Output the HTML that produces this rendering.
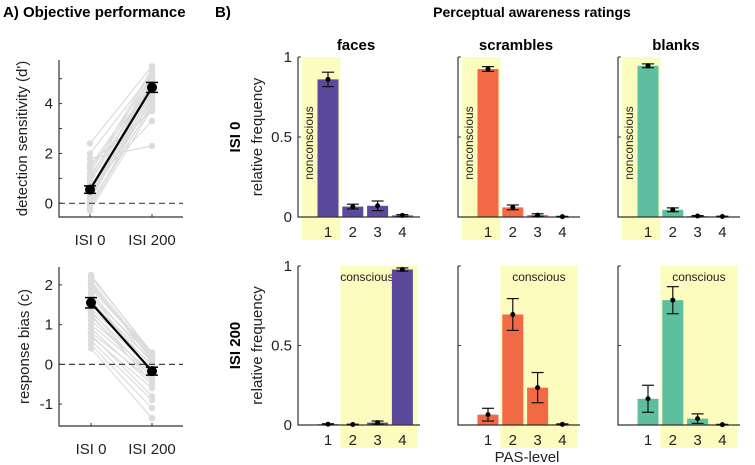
<!DOCTYPE html>
<html><head><meta charset="utf-8"><style>
html,body{margin:0;padding:0;background:#fff;}
svg{display:block;font-family:"Liberation Sans",Arial,sans-serif;}
</style></head><body>
<svg id="fig" width="755" height="465" viewBox="0 0 755 465" xmlns="http://www.w3.org/2000/svg">
<text x="3" y="17" font-size="15" font-weight="bold">A)  Objective performance</text>
<text x="215" y="17" font-size="15" font-weight="bold">B)</text>
<text x="532" y="17" font-size="14" font-weight="bold" text-anchor="middle">Perceptual awareness ratings</text>
<g id="gA"></g><g id="gB"></g>
</svg>
<script>
// ---- Panel A data ----
const dIsi0 = [-0.3,-0.2,-0.1,0.0,0.1,0.15,0.2,0.25,0.3,0.35,0.4,0.45,0.5,0.55,0.6,0.7,0.8,0.9,1.0,1.1,1.2,1.4,1.5,1.6,1.8,2.0,2.4];
const dIsi200 = [3.8,4.0,4.2,3.9,4.5,4.3,4.7,4.1,4.9,4.6,5.0,4.4,4.8,5.2,4.6,3.3,5.1,4.9,5.3,4.7,5.4,4.8,5.0,3.7,2.3,5.2,5.5];
const dMean = [0.55, 4.65];
const dErr = [0.15, 0.2];
const cIsi0 = [0.4,0.5,0.6,0.7,0.75,0.8,0.9,1.0,1.1,1.2,1.3,1.35,1.4,1.5,1.55,1.6,1.7,1.75,1.8,1.9,1.95,2.0,2.05,2.1,2.2,2.25,1.25];
const cIsi200 = [-1.35,-1.1,-0.9,-0.6,-0.8,-0.4,-0.5,-0.3,-0.2,-0.25,-0.1,-0.35,0.0,-0.15,0.1,-0.05,0.2,-0.2,0.05,0.25,0.3,0.15,0.1,0.2,0.3,0.25,-0.45];
const cMean = [1.55, -0.17];
const cErr = [0.13, 0.1];
const condLabels = ["ISI 0","ISI 200"];
// ---- Panel B data ----
const pasLevels = [1,2,3,4];
const stimNames = ["faces","scrambles","blanks"];
const facesIsi0 = [0.86,0.065,0.07,0.01];
const facesIsi0Err = [0.045,0.015,0.03,0.005];
const scramblesIsi0 = [0.925,0.06,0.012,0.002];
const scramblesIsi0Err = [0.015,0.015,0.008,0.002];
const blanksIsi0 = [0.945,0.045,0.006,0.003];
const blanksIsi0Err = [0.012,0.012,0.003,0.002];
const facesIsi200 = [0.005,0.003,0.015,0.978];
const facesIsi200Err = [0.003,0.002,0.01,0.01];
const scramblesIsi200 = [0.065,0.695,0.235,0.004];
const scramblesIsi200Err = [0.04,0.1,0.095,0.003];
const blanksIsi200 = [0.165,0.785,0.04,0.002];
const blanksIsi200Err = [0.085,0.085,0.03,0.002];
const yTicksB = [0,0.5,1];
const yTickLabelsB = ["0","0.5","1"];

const NS="http://www.w3.org/2000/svg";
function mk(tag, attrs, parent, txt){const e=document.createElementNS(NS,tag);for(const k in attrs)e.setAttribute(k,attrs[k]);if(txt!==undefined)e.textContent=txt;parent.appendChild(e);return e;}

function panelA(g, y0val, ydom, top, bot, xs, vals0, vals1, mean, err, ticks, minor, ylabel, ylx, name){
  const L=59, R=183;
  const sy=v=> bot - (v-ydom[0])/(ydom[1]-ydom[0])*(bot-top);
  const grp=mk('g',{},g);
  
  
  for(let i=0;i<vals0.length;i++){
    const l=mk('line',{x1:xs[0],y1:sy(vals0[i]),x2:xs[1],y2:sy(vals1[i]),stroke:'#dcdcdc','stroke-width':1.2},grp);
    
    
  }
  for(let i=0;i<vals0.length;i++){
    const a=mk('circle',{cx:xs[0],cy:sy(vals0[i]),r:3.2,fill:'#dcdcdc'},grp);
    
    
    const b=mk('circle',{cx:xs[1],cy:sy(vals1[i]),r:3.2,fill:'#dcdcdc'},grp);
    
    
  }
  mk('line',{x1:L,y1:sy(0),x2:R,y2:sy(0),stroke:'#444','stroke-width':1.2,'stroke-dasharray':'6,4'},grp);
  const ml=mk('line',{x1:xs[0],y1:sy(mean[0]),x2:xs[1],y2:sy(mean[1]),stroke:'#000','stroke-width':2.2},grp);
  
  
  for(let i=0;i<2;i++){
    const y1=sy(mean[i]-err[i]), y2=sy(mean[i]+err[i]);
    mk('line',{x1:xs[i],y1:y1,x2:xs[i],y2:y2,stroke:'#000','stroke-width':1.5},grp);
    mk('line',{x1:xs[i]-6,y1:y1,x2:xs[i]+6,y2:y1,stroke:'#000','stroke-width':1.5},grp);
    mk('line',{x1:xs[i]-6,y1:y2,x2:xs[i]+6,y2:y2,stroke:'#000','stroke-width':1.5},grp);
    const c=mk('circle',{cx:xs[i],cy:sy(mean[i]),r:5,fill:'#000'},grp);
    
    
  }
  mk('path',{d:`M${L},${top} L${L},${bot} L${R},${bot}`,fill:'none',stroke:'#333','stroke-width':1.2},grp);
  for(const t of ticks){
    mk('line',{x1:L,y1:sy(t),x2:L+3,y2:sy(t),stroke:'#333'},grp);
    const tx=mk('text',{x:L-6,y:sy(t)+5,'font-size':15,'text-anchor':'end',fill:'#222'},grp,String(t));
    
    
  }
  for(const t of minor){ mk('line',{x1:L,y1:sy(t),x2:L+3,y2:sy(t),stroke:'#333'},grp); }
  for(let i=0;i<2;i++){
    mk('line',{x1:xs[i],y1:bot,x2:xs[i],y2:bot-3,stroke:'#333'},grp);
    const tx=mk('text',{x:xs[i],y:bot+28,'font-size':15,'text-anchor':'middle',fill:'#222'},grp,condLabels[i]);
    
    
  }
  const yl=mk('text',{x:ylx,y:(top+bot)/2,'font-size':15,'text-anchor':'middle',fill:'#222',transform:`rotate(-90 ${ylx} ${(top+bot)/2})`},grp,ylabel);
  
  
}
const gA=document.getElementById('gA');
panelA(gA,0,[-0.55,5.75],60,217,[90,152],dIsi0,dIsi200,dMean,dErr,[0,2,4],[1,3,5],"detection sensitivity (d')",27,'dprime-plot');
panelA(gA,0,[-1.55,2.45],267,426,[91,152],cIsi0,cIsi200,cMean,cErr,[-1,0,1,2],[],"response bias (c)",29,'bias-plot');

// Panel B
const colors=['#5b4a9c','#f26a45','#5dbf9f'];
const rows=[
  {vals:[facesIsi0,scramblesIsi0,blanksIsi0],errs:[facesIsi0Err,scramblesIsi0Err,blanksIsi0Err],top:57,bot:217,band:[1,1],bandLabel:'nonconscious',rowLabel:'ISI 0'},
  {vals:[facesIsi200,scramblesIsi200,blanksIsi200],errs:[facesIsi200Err,scramblesIsi200Err,blanksIsi200Err],top:266,bot:425,band:[2,4],bandLabel:'conscious',rowLabel:'ISI 200'}
];
const gB=document.getElementById('gB');
rows.forEach((row,ri)=>{
  const rl=mk('text',{x:240,y:(row.top+row.bot)/2,'font-size':15,'font-weight':'bold','text-anchor':'middle',transform:`rotate(-90 240 ${(row.top+row.bot)/2})`},gB,row.rowLabel);
  
  
  const yl=mk('text',{x:262,y:(row.top+row.bot)/2,'font-size':15,'text-anchor':'middle',fill:'#222',transform:`rotate(-90 262 ${(row.top+row.bot)/2})`},gB,'relative frequency');
  
  
  for(let c=0;c<3;c++){
    const L=298+160*c, R=L+122;
    const sx=p=>L+30+(p-1)*24.8;
    const sy=v=>row.bot-v*(row.bot-row.top);
    const grp=mk('g',{},gB);
    
    
    let bx1=sx(row.band[0])-12.4, bx2=sx(row.band[1])+12.4;
    if(ri===0) bx1=L+4;
    if(ri===1) bx2=sx(row.band[1])+15;
    const band=mk('rect',{x:bx1,y:row.top,width:bx2-bx1,height:row.bot-row.top+23,fill:'#fcfcbf'},grp);
    
    
    if(ri===0){
      const lx=L+15, ly=row.top+86;
      const bl=mk('text',{x:lx,y:ly,'font-size':12,'text-anchor':'middle',fill:'#222',transform:`rotate(-90 ${lx} ${ly})`},grp,'nonconscious');
      
      
    } else {
      const bl=mk('text',{x:(bx1+bx2)/2,y:row.top+15,'font-size':12,'text-anchor':'middle',fill:'#222'},grp,'conscious');
      if(c===0) bl.setAttribute('x', (bx1+bx2)/2-12);
      
      
    }
    const v=row.vals[c], e=row.errs[c];
    pasLevels.forEach((p,i)=>{
      const b=mk('rect',{x:sx(p)-10.5,y:sy(v[i]),width:21,height:Math.max(0.8,sy(0)-sy(v[i])),fill:colors[c]},grp);
      
      
    });
    mk('path',{d:`M${L},${row.top} L${L},${row.bot} L${R},${row.bot}`,fill:'none',stroke:'#333','stroke-width':1.2},grp);
    pasLevels.forEach((p,i)=>{
      const y1=sy(v[i]-e[i]), y2=sy(v[i]+e[i]), x=sx(p);
      mk('line',{x1:x,y1:y1,x2:x,y2:y2,stroke:'#111','stroke-width':1.2},grp);
      mk('line',{x1:x-6,y1:y1,x2:x+6,y2:y1,stroke:'#111','stroke-width':1.2},grp);
      mk('line',{x1:x-6,y1:y2,x2:x+6,y2:y2,stroke:'#111','stroke-width':1.2},grp);
      const d=mk('circle',{cx:x,cy:sy(v[i]),r:2.5,fill:'#000'},grp);
      
      
      const t=mk('text',{x:x,y:row.bot+20,'font-size':15,'text-anchor':'middle',fill:'#222'},grp,String(p));
      
      
    });
    yTicksB.forEach((t,i)=>{
      mk('line',{x1:L,y1:sy(t),x2:L+3,y2:sy(t),stroke:'#333'},grp);
      if(c===0){
        const tx=mk('text',{x:L-6,y:sy(t)+5,'font-size':15,'text-anchor':'end',fill:'#222'},grp,yTickLabelsB[i]);
        
        
      }
    });
    if(ri===0){
      const st=mk('text',{x:L+58,y:50,'font-size':15,'font-weight':'bold','text-anchor':'middle'},grp,stimNames[c]);
      
      
    }
  }
});
const xl=mk('text',{x:527,y:462,'font-size':15,'text-anchor':'middle',fill:'#222'},gB,'PAS-level');


</script>
</body></html>
